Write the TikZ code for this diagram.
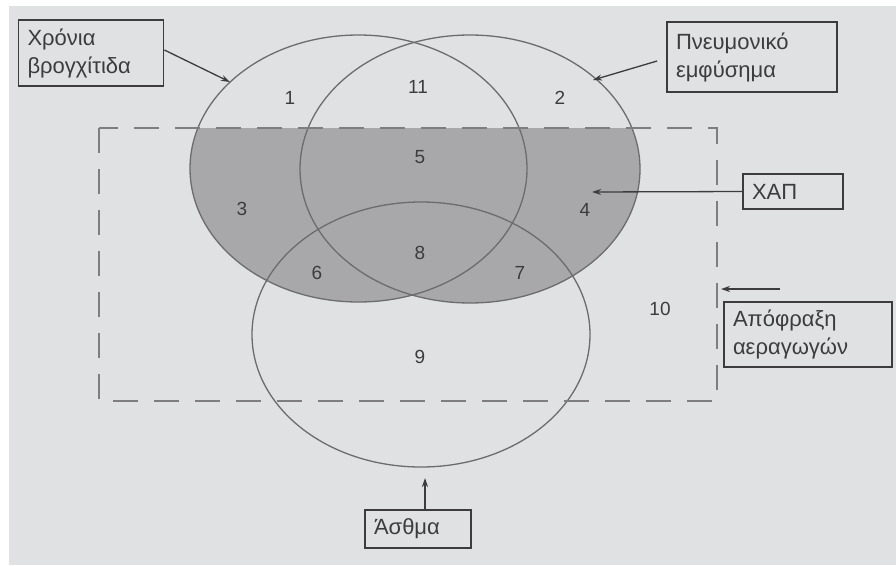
\documentclass[tikz,border=0pt]{standalone}
\usepackage{fontspec}
\setmainfont{Liberation Sans}
\usetikzlibrary{arrows.meta,calc}
\definecolor{bggray}{HTML}{E0E1E3}
\definecolor{shadegray}{HTML}{A8A8AB}
\definecolor{linegray}{HTML}{6C6C6E}
\definecolor{dashgray}{HTML}{7E7E80}
\definecolor{inkgray}{HTML}{3C3C3E}
\tikzset{
  setline/.style={draw=linegray, line width=1.3pt},
  regionnum/.style={text=inkgray, font=\fontsize{19}{22}\selectfont},
  labelbox/.style={draw=inkgray, line width=1.8pt, text=inkgray,
    font=\fontsize{22}{28}\selectfont, align=left, inner xsep=9pt,
    inner ysep=0pt, anchor=center},
  pointer/.style={draw=inkgray, line width=1.3pt,
    -{Stealth[length=9pt,width=6pt]}},
}
\begin{document}
\begin{tikzpicture}[x=1pt,y=-1pt]
  % page and grey panel
  \useasboundingbox (0,0) rectangle (896,565);
  \fill[white] (0,0) rectangle (896,565);
  \fill[bggray] (9,6) rectangle (896,565);

  % shaded part of the two upper sets inside the frame
  \begin{scope}
    \clip (99,128) rectangle (717,401);
    \fill[shadegray] (358.5,168.5) ellipse [x radius=168.5, y radius=133.5];
    \fill[shadegray] (470,169) ellipse [x radius=170, y radius=134];
  \end{scope}

  % the three sets
  \draw[setline] (358.5,168.5) ellipse [x radius=168.5, y radius=133.5];
  \draw[setline] (470,169) ellipse [x radius=170, y radius=134];
  \draw[setline] (421,334.5) ellipse [x radius=169, y radius=132.5];

  % airway obstruction frame
  \draw[dashgray, line width=2.6pt, dash pattern=on 25pt off 16pt]
    (99,128) rectangle (717,401);

  % region numbers
  \node[regionnum] (r1)  at (290,98)  {1};
  \node[regionnum] (r11) at (418,87)  {11};
  \node[regionnum] (r2)  at (560,98)  {2};
  \node[regionnum] (r5)  at (420,157) {5};
  \node[regionnum] (r3)  at (242,209) {3};
  \node[regionnum] (r4)  at (585,210) {4};
  \node[regionnum] (r8)  at (420,253) {8};
  \node[regionnum] (r6)  at (317,273) {6};
  \node[regionnum] (r7)  at (520,273) {7};
  \node[regionnum] (r10) at (660,309) {10};
  \node[regionnum] (r9)  at (420,357) {9};

  % label boxes
  \node[labelbox, text width=127pt, minimum height=66pt] (bronch) at (91,53)
    {Χρόνια\\βρογχίτιδα};
  \node[labelbox, text width=152pt, minimum height=70pt] (emph) at (752,57)
    {Πνευμονικό\\εμφύσημα};
  \node[labelbox, text width=82pt, minimum height=35pt] (copd) at (793,191.5)
    {ΧΑΠ};
  \node[labelbox, text width=150pt, minimum height=65pt] (obstr) at (808,334.5)
    {Απόφραξη\\αεραγωγών};
  \node[labelbox, text width=88pt, minimum height=38pt] (asthma) at (418,529)
    {Άσθμα};

  % arrow tips on the sets
  \coordinate (tipbronch) at (230,82);
  \coordinate (tipemph) at (593,80);
  \coordinate (tipcopd) at (592,192);
  \coordinate (tipobstr) at (721,289);
  \coordinate (startobstr) at (780,289);
  \coordinate (tipasthma) at (425,478);

  % pointers
  \draw[pointer] ([yshift=3pt]bronch.east) -- (tipbronch);
  \draw[pointer] ([xshift=-9pt,yshift=-4pt]emph.west) -- (tipemph);
  \draw[pointer] (copd.west) -- (tipcopd);
  \draw[pointer] (startobstr) -- (tipobstr);
  \draw[pointer] ([xshift=7pt]asthma.north) -- (tipasthma);
\end{tikzpicture}
\end{document}
